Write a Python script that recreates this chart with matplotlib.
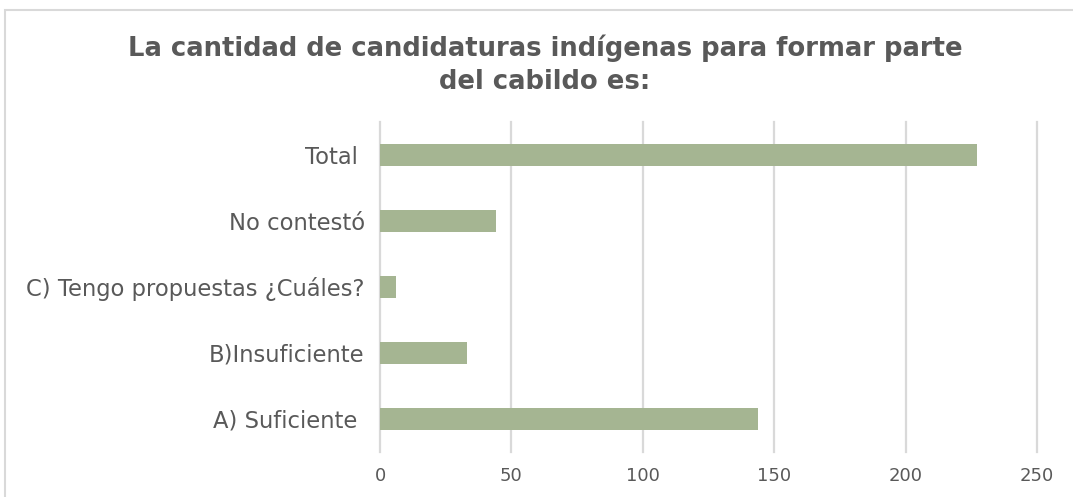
import matplotlib.pyplot as plt
from matplotlib.patches import Rectangle

# data (bottom to top, as drawn)
categories = ["A) Suficiente ", "B)Insuficiente", "C) Tengo propuestas ¿Cuáles?", "No contestó", "Total "]
values = [144, 33, 6, 44, 227]
ticks = [0, 50, 100, 150, 200, 250]

title = "La cantidad de candidaturas indígenas para formar parte\ndel cabildo es:"

bar_color = "#a5b592"
grid_color = "#d9d9d9"
text_color = "#595959"

plt.rcParams['font.family'] = ['DejaVu Sans']

fig = plt.figure(figsize=(10.73, 4.97), dpi=100)
ax = fig.add_axes([380 / 1073, 1 - 452 / 497, 657 / 1073, 330 / 497])

y = list(range(len(categories)))
ax.barh(y, values, height=0.34, color=bar_color, zorder=3)

ax.set_xlim(0, 250)
ax.set_ylim(-0.5, len(categories) - 0.5)
ax.set_xticks(ticks)
ax.set_yticks(y)
ax.set_yticklabels(categories, fontsize=16.3, color=text_color)
ax.set_xticklabels([str(t) for t in ticks], fontsize=13, color=text_color)
ax.tick_params(axis='both', length=0)
ax.tick_params(axis='y', pad=11)
ax.tick_params(axis='x', pad=11)
ax.grid(axis='x', color=grid_color, linewidth=1.6, zorder=0)
for line in ax.get_xgridlines():
    line.set_clip_on(False)
for s in ax.spines.values():
    s.set_visible(False)

fig.text(0.508, 1 - 65 / 497, title, ha='center', va='center', fontsize=18.6,
         fontweight='bold', color=text_color, linespacing=1.35)

# chart area border
fig.patches.append(Rectangle((5 / 1073, -0.1), 1.2, 1 - 10 / 497 + 0.1,
                             transform=fig.transFigure, fill=False,
                             edgecolor=grid_color, linewidth=1.5))

fig.savefig("out.png", dpi=100)
